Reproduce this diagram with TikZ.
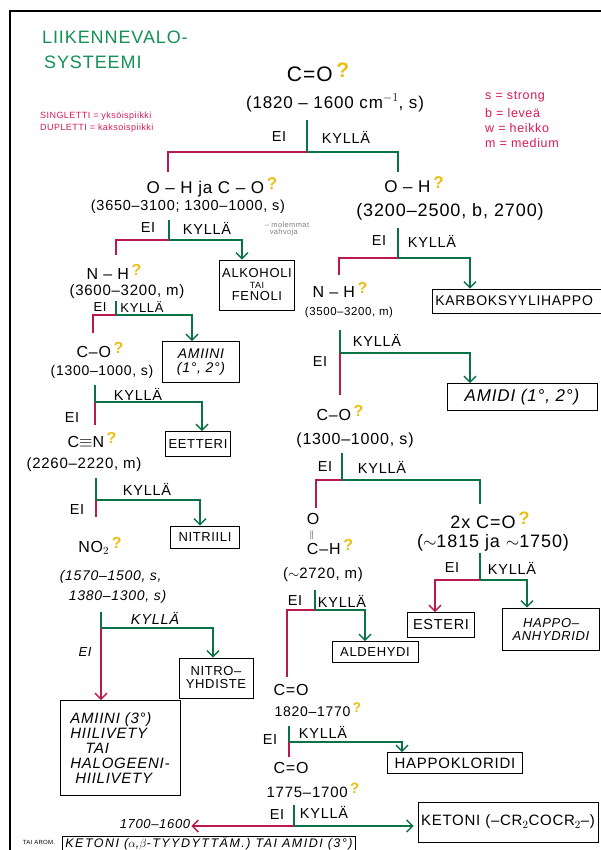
\documentclass[tikz,border=0pt]{standalone}
\usepackage{fontspec}
\setmainfont{Liberation Sans}[LetterSpace=5]
\usepackage{tikz}
\usetikzlibrary{arrows.meta}

\definecolor{kgreen}{RGB}{10,115,70}
\definecolor{kred}{RGB}{185,25,75}
\definecolor{tgreen}{RGB}{20,145,85}
\definecolor{pinktxt}{RGB}{215,25,85}
\definecolor{qyellow}{RGB}{235,190,20}
\newcommand\fsz[1]{\fontsize{#1}{#1}\selectfont}
\newcommand\qmark{\,\raisebox{4pt}{\textcolor{qyellow}{\bfseries ?}}}

\begin{document}
\begin{tikzpicture}[x=1pt,y=-1pt,
  qtext/.style={inner sep=1pt, font=\fsz{16}},
  rng/.style={inner sep=1pt, font=\fsz{14}},
  ans/.style={inner sep=1pt, font=\fsz{14.5}},
  res/.style={draw, line width=0.7pt, inner sep=3pt, align=center, font=\fsz{13}},
  yesline/.style={draw=kgreen, line width=1.5pt},
  noline/.style={draw=kred, line width=1.5pt},
  hd/.style={-{Straight Barb[length=6pt,width=12pt]}}
]
\useasboundingbox (0,0) rectangle (601,850);
\draw[line width=1.3pt] (10,855) -- (10,11) -- (606,11);

% title and notes
\node[anchor=west, inner sep=0pt, text=tgreen, font=\fsz{18}] (title1) at (42,37) {LIIKENNEVALO-};
\node[anchor=west, inner sep=0pt, text=tgreen, font=\fsz{18}] (title2) at (44,62) {SYSTEEMI};
\node[anchor=west, inner sep=0pt, text=pinktxt, font=\fsz{9}] (sing) at (40,116) {SINGLETTI = yksöispiikki};
\node[anchor=west, inner sep=0pt, text=pinktxt, font=\fsz{9}] (dupl) at (40,128) {DUPLETTI = kaksoispiikki};
\node[anchor=west, inner sep=0pt, text=pinktxt, font=\fsz{12.5}] (lgs) at (485,97) {s = strong};
\node[anchor=west, inner sep=0pt, text=pinktxt, font=\fsz{12.5}] (lgb) at (485,113) {b = leveä};
\node[anchor=west, inner sep=0pt, text=pinktxt, font=\fsz{12.5}] (lgw) at (485,128) {w = heikko};
\node[anchor=west, inner sep=0pt, text=pinktxt, font=\fsz{12.5}] (lgm) at (485,143) {m = medium};

% root
\node[qtext, font=\fsz{21}] (q0) at (318,72) {C=O\qmark};
\node[rng, font=\fsz{17}] (r0) at (335,103) {(1820 – 1600 cm$^{-1}$, s)};
\node[ans] (e0) at (279,137) {EI};
\node[ans] (k0) at (346,137) {KYLLÄ};
\coordinate (s0) at (307,120);
\coordinate (j0) at (307,152);
\coordinate (L0) at (168,152);
\coordinate (R0) at (398,152);

% left branch
\node[qtext, font=\fsz{17}] (qL) at (212,187) {O – H ja C – O\qmark};
\node[rng, font=\fsz{14.5}] (rL) at (188,207) {(3650–3100; 1300–1000, s)};
\node[inner sep=0pt, text=gray, font=\fsz{7.5}, align=left] (mol) at (287,229) {– molemmat\\\ \ vahvoja};
\node[ans] (e1) at (148,228) {EI};
\node[ans] (k1) at (207,228) {KYLLÄ};
\coordinate (s1) at (169,220);
\coordinate (j1) at (169,240);
\coordinate (a1) at (116,240);
\coordinate (b1) at (242,240);
\node[res, minimum width=75, minimum height=50] (alk) at (257,285) {ALKOHOLI\\[-2pt]{\fsz{9}TAI}\\[-1pt]FENOLI};

\node[qtext, font=\fsz{16}] (qNH) at (114,272) {N – H\qmark};
\node[rng, font=\fsz{15}] (rNH) at (127,292) {(3600–3200, m)};
\node[ans, font=\fsz{13}] (e2) at (100,307) {EI};
\node[ans, font=\fsz{13}] (k2) at (142,307) {KYLLÄ};
\coordinate (s2) at (116,301);
\coordinate (j2) at (116,315);
\coordinate (a2) at (93,315);
\coordinate (b2) at (192,315);
\node[res, minimum width=77, minimum height=41, font=\fsz{14}\itshape] (am12) at (201,362) {AMIINI\\(1°, 2°)};

\node[qtext] (qCO1) at (100,350) {C–O\qmark};
\node[rng] (rCO1) at (102,372) {(1300–1000, s)};
\node[ans] (e3) at (72,418) {EI};
\node[ans] (k3) at (138,394) {KYLLÄ};
\coordinate (s3) at (95,385);
\coordinate (j3) at (95,402);
\coordinate (a3) at (95,425);
\coordinate (b3) at (202,402);
\node[res, minimum width=57, minimum height=25] (eet) at (198,444) {EETTERI};

\node[qtext] (qCN) at (92,440) {C$\equiv$N\qmark};
\node[rng, font=\fsz{15}] (rCN) at (84,465) {(2260–2220, m)};
\node[ans] (e4) at (77,510) {EI};
\node[ans] (k4) at (147,489) {KYLLÄ};
\coordinate (s4) at (96,478);
\coordinate (j4) at (96,500);
\coordinate (a4) at (96,517);
\coordinate (b4) at (200,500);
\node[res, minimum width=69, minimum height=22] (nitr) at (205,537) {NITRIILI};

\node[qtext] (qNO) at (100,546) {NO$_2$\qmark};
\node[rng, align=left, font=\fsz{14}\itshape] (rNO) at (113,587) {(1570–1500, s,\\[6pt]\ \ 1380–1300, s)};
\node[ans, font=\fsz{13}\itshape] (e5) at (85,652) {EI};
\node[ans, font=\fsz{14.5}\itshape] (k5) at (155,618) {KYLLÄ};
\coordinate (s5) at (101,612);
\coordinate (j5) at (101,628);
\coordinate (b5) at (213,628);
\node[res, minimum width=74, minimum height=40] (nitro) at (216,678) {NITRO–\\YHDISTE};
\node[res, minimum width=120, minimum height=95, align=left, font=\fsz{15}\itshape] (am3) at (120,748)
  {AMIINI (3°)\\HIILIVETY\\\quad TAI\\HALOGEENI-\\\ HIILIVETY};

% right branch
\node[qtext, font=\fsz{17}] (qR) at (414,185) {O – H\qmark};
\node[rng, font=\fsz{18}] (rR) at (450,212) {(3200–2500, b, 2700)};
\node[ans] (e6) at (379,241) {EI};
\node[ans] (k6) at (432,241) {KYLLÄ};
\coordinate (s6) at (398,228);
\coordinate (j6) at (398,258);
\coordinate (a6) at (339,258);
\coordinate (b6) at (470,258);
\node[res, anchor=west, minimum height=24, text width=165, align=left, font=\fsz{14}] (karb) at (432,301) {KARBOKSYYLIHAPPO};

\node[qtext] (qNH2) at (340,290) {N – H\qmark};
\node[rng, font=\fsz{11.5}] (rNH2) at (349,313) {(3500–3200, m)};
\node[ans] (e7) at (320,362) {EI};
\node[ans] (k7) at (377,340) {KYLLÄ};
\coordinate (s7) at (340,330);
\coordinate (j7) at (340,353);
\coordinate (a7) at (340,395);
\coordinate (b7) at (470,353);
\node[res, minimum width=150, minimum height=27, font=\fsz{17}\itshape] (amd) at (522,397) {AMIDI (1°, 2°)};

\node[qtext] (qCO2) at (340,413) {C–O\qmark};
\node[rng, font=\fsz{16}] (rCO2) at (355,440) {(1300–1000, s)};
\node[ans] (e8) at (325,467) {EI};
\node[ans] (k8) at (382,467) {KYLLÄ};
\coordinate (s8) at (342,453);
\coordinate (j8) at (342,480);
\coordinate (a8) at (316,480);
\coordinate (b8) at (480,480);

\node[qtext, align=left] (qCH) at (330,534) {O\\[-3pt]\,{\fsz{9}$\|$}\\[-1pt]C–H\qmark};
\node[rng, font=\fsz{15}] (rCH) at (323,575) {($\sim$2720, m)};
\node[ans] (e9) at (295,601) {EI};
\node[ans] (k9) at (342,601) {KYLLÄ};
\coordinate (s9) at (315,590);
\coordinate (j9) at (315,610);
\coordinate (a9) at (287,610);
\coordinate (b9) at (365,610);
\node[res, minimum width=86, minimum height=21] (ald) at (375,652) {ALDEHYDI};

\node[qtext, font=\fsz{18}] (q2x) at (490,520) {2x C=O\qmark};
\node[rng, font=\fsz{18}] (r2x) at (493,543) {($\sim$1815 ja $\sim$1750)};
\node[ans] (e10) at (452,568) {EI};
\node[ans] (k10) at (512,568) {KYLLÄ};
\coordinate (s10) at (480,553);
\coordinate (j10) at (480,580);
\coordinate (a10) at (435,580);
\coordinate (b10) at (527,580);
\node[res, minimum width=67, minimum height=25, font=\fsz{14.5}] (est) at (441,625) {ESTERI};
\node[res, minimum width=97, minimum height=42, font=\fsz{13}\itshape] (anh) at (551,629) {HAPPO–\\ANHYDRIDI};

\node[qtext] (qCO3) at (291,690) {C=O};
\node[rng] (rCO3) at (318,710) {1820–1770\qmark};
\node[ans] (e11) at (270,740) {EI};
\node[ans] (k11) at (323,732) {KYLLÄ};
\coordinate (s11) at (289,726);
\coordinate (j11) at (289,742);
\coordinate (a11) at (289,757);
\coordinate (b11) at (402,742);
\node[res, minimum width=135, minimum height=21, font=\fsz{15}] (hkl) at (455,763) {HAPPOKLORIDI};

\node[qtext] (qCO4) at (291,768) {C=O};
\node[rng, font=\fsz{15}] (rCO4) at (313,790) {1775–1700\qmark};
\node[ans] (e12) at (277,815) {EI};
\node[ans] (k12) at (324,812) {KYLLÄ};
\coordinate (s12) at (294,805);
\coordinate (j12) at (294,826);
\node[res, minimum width=180, minimum height=40, font=\fsz{15}] (ket) at (508,822) {KETONI (–CR$_2$COCR$_2$–)};
\node[rng, font=\fsz{13}\itshape] (r1700) at (155,824) {1700–1600};
\node[inner sep=0pt, font=\fsz{6}] (arom) at (39,842) {TAI AROM.};
\node[res, anchor=north west, inner ysep=1pt, font=\fsz{12.5}\itshape\addfontfeature{LetterSpace=12}] (ketb) at (62,835.5) {KETONI ($\alpha$,$\beta$-TYYDYTTÄM.) TAI AMIDI (3°)};

% connectors
\draw[yesline] (s0) -- (j0) -- (R0) -- ([yshift=4pt]qR.north -| R0);
\draw[noline] (j0) -- (L0) -- ([yshift=4pt]qL.north -| L0);

\draw[yesline, hd] (s1) -- (j1) -- (b1) -- (alk.north -| b1);
\draw[noline, shorten >=8pt] (j1) -- (a1) -- (qNH.north -| a1);

\draw[yesline, hd] (s2) -- (j2) -- (b2) -- (am12.north -| b2);
\draw[noline, shorten >=8pt] (j2) -- (a2) -- (qCO1.north -| a2);

\draw[yesline, hd] (s3) -- (j3) -- (b3) -- (eet.north -| b3);
\draw[noline] (j3) -- (a3);

\draw[yesline, hd] (s4) -- (j4) -- (b4) -- (nitr.north -| b4);
\draw[noline] (j4) -- (a4);

\draw[yesline, hd] (s5) -- (j5) -- (b5) -- (nitro.north -| b5);
\draw[noline, hd] (j5) -- (am3.north -| j5);

\draw[yesline, hd] (s6) -- (j6) -- (b6) -- (karb.north -| b6);
\draw[noline, shorten >=6pt] (j6) -- (a6) -- (qNH2.north -| a6);

\draw[yesline, hd] (s7) -- (j7) -- (b7) -- (amd.north -| b7);
\draw[noline] (j7) -- (a7);

\draw[yesline, shorten >=6pt] (s8) -- (j8) -- (b8) -- (q2x.north -| b8);
\draw[noline, shorten >=4pt] (j8) -- (a8) -- (qCH.north -| a8);

\draw[yesline, hd] (s9) -- (j9) -- (b9) -- (ald.north -| b9);
\draw[noline, shorten >=6pt] (j9) -- (a9) -- (qCO3.north -| a9);

\draw[yesline, hd] (s10) -- (j10) -- (b10) -- (anh.north -| b10);
\draw[noline, hd] (j10) -- (a10) -- (est.north -| a10);

\draw[yesline, hd] (s11) -- (j11) -- (b11) -- (hkl.north -| b11);
\draw[noline] (j11) -- (a11);

\draw[yesline, hd, shorten >=4pt] (s12) -- (j12) -- (ket.west |- j12);
\draw[noline, hd] (j12) -- (r1700.east |- j12);
\end{tikzpicture}
\end{document}
